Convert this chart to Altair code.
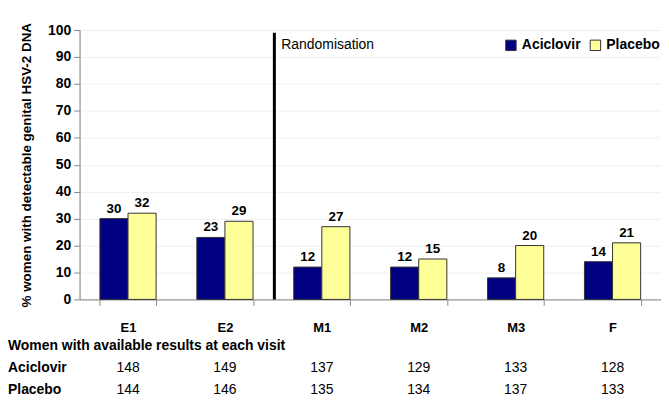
import altair as alt
import pandas as pd

visits = ["E1", "E2", "M1", "M2", "M3", "F"]
groups = ["Aciclovir", "Placebo"]
aciclovir_pct = [30, 23, 12, 12, 8, 14]
placebo_pct = [32, 29, 27, 15, 20, 21]
aciclovir_n = [148, 149, 137, 129, 133, 128]
placebo_n = [144, 146, 135, 134, 137, 133]
y_ticks = [0, 10, 20, 30, 40, 50, 60, 70, 80, 90, 100]
table_title = "Women with available results at each visit"
colors = ["#000080", "#FFFF99"]

FONT = "Liberation Sans, Arial, sans-serif"

rows = []
for v, a, p in zip(visits, aciclovir_pct, placebo_pct):
    rows.append({"visit": v, "group": "Aciclovir", "pct": a})
    rows.append({"visit": v, "group": "Placebo", "pct": p})
bars_df = pd.DataFrame(rows)
table_df = pd.DataFrame({"visit": visits, "na": aciclovir_n, "np": placebo_n})
rule_df = pd.DataFrame({"pct": [99], "bottom": [0]})

W, H = 585, 271

x_axis = alt.Axis(title=None, labelAngle=0, tickBand="extent", labelFont=FONT,
                  labelFontSize=13, labelFontWeight="bold", labelColor="black",
                  labelPadding=16, tickSize=6, tickColor="#888", domainColor="#888",
                  grid=False)
x_scale = alt.Scale(paddingInner=0.42, paddingOuter=0.21)
y_axis = alt.Axis(title="% women with detectable genital HSV-2 DNA", values=y_ticks,
                  labelOverlap=False, tickCount=11,
                  titleFont=FONT, titleFontSize=13.5, titleFontWeight="bold", titleColor="black",
                  titlePadding=14, labelFont=FONT, labelFontSize=14, labelFontWeight="bold",
                  labelColor="black", labelPadding=3, tickSize=6, tickColor="#888",
                  domainColor="#888", gridColor="#f0f0f0")
y_scale = alt.Scale(domain=[0, 100])


def X():
    return alt.X("visit:N", sort=visits, scale=x_scale, axis=x_axis)


def Y(field="pct:Q"):
    return alt.Y(field, scale=y_scale, axis=y_axis)


bars = alt.Chart(bars_df).mark_bar(stroke="#333", strokeWidth=1).encode(
    x=X(),
    xOffset=alt.XOffset("group:N", sort=groups),
    y=Y(),
    color=alt.Color("group:N", sort=groups, scale=alt.Scale(domain=groups, range=colors),
                    legend=alt.Legend(title=None, orient="none", legendX=427, legendY=8,
                                      direction="horizontal", symbolType="square", symbolSize=110,
                                      symbolStrokeColor="#333", symbolStrokeWidth=1,
                                      labelFont=FONT, labelFontSize=14, labelFontWeight="bold",
                                      labelColor="black", columnPadding=6, symbolOffset=0)),
)

bar_text = alt.Chart(bars_df).mark_text(dy=-10, font=FONT, fontSize=13.5, fontWeight="bold", color="black").encode(
    x=X(),
    xOffset=alt.XOffset("group:N", sort=groups),
    y=Y(),
    text="pct:Q",
)

rule = alt.Chart(rule_df).mark_rule(color="black", strokeWidth=3).encode(
    x=alt.value(196), y=Y(), y2="bottom:Q")

rand_text = alt.Chart(pd.DataFrame({"t": ["Randomisation"]})).mark_text(
    align="left", baseline="middle", font=FONT, fontSize=14, color="black").encode(
    x=alt.value(203), y=alt.value(15), text="t:N")


def row_label(text, ypix):
    return alt.Chart(pd.DataFrame({"t": [text]})).mark_text(
        align="left", baseline="middle", font=FONT, fontSize=14, fontWeight="bold", color="black").encode(
        x=alt.value(-72), y=alt.value(ypix), text="t:N")


lab_head = row_label(table_title, 318)
lab_a = row_label(groups[0], 340)
lab_p = row_label(groups[1], 362)

na_text = alt.Chart(table_df).mark_text(baseline="middle", font=FONT, fontSize=14, color="black").encode(
    x=X(), y=alt.value(340), text="na:Q")
np_text = alt.Chart(table_df).mark_text(baseline="middle", font=FONT, fontSize=14, color="black").encode(
    x=X(), y=alt.value(362), text="np:Q")

chart = alt.layer(bars, bar_text, rule, rand_text, lab_head, lab_a, lab_p, na_text, np_text).properties(
    width=W, height=H,
    autosize=alt.AutoSizeParams(type="none"),
    padding={"left": 72, "top": 21, "right": 0, "bottom": 97},
).configure_view(stroke=None).configure(background="white")

chart.save("out.html", embed_options={"renderer": "svg", "actions": False})
